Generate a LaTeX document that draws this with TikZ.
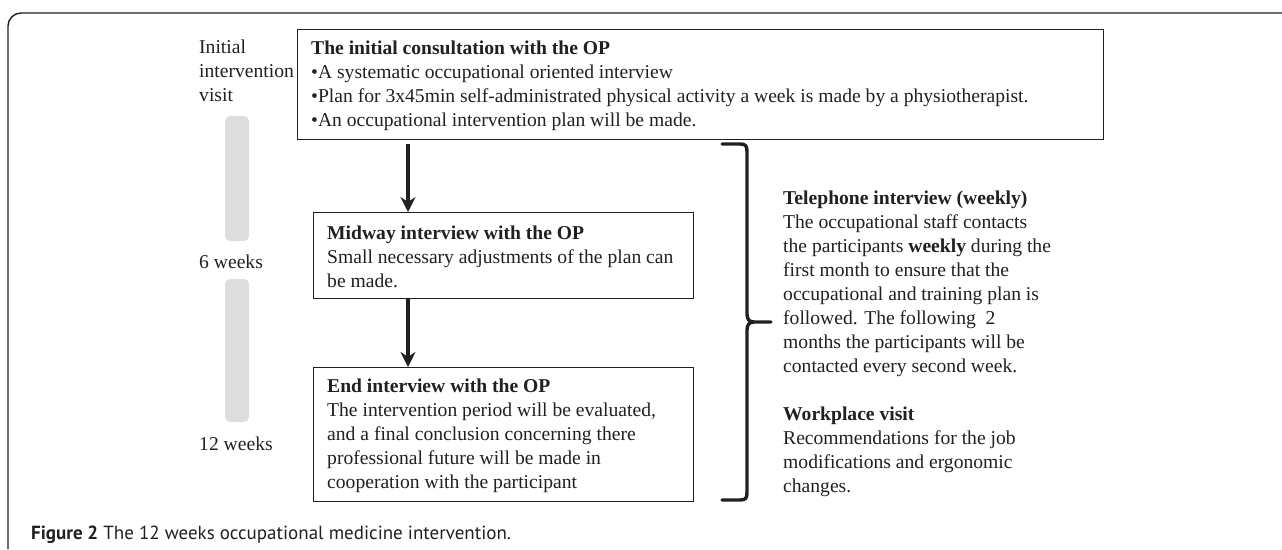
\documentclass[tikz,border=0pt]{standalone}
\usepackage{fontspec}
\setmainfont{Liberation Serif}
\newfontfamily\capfont{PT Sans}
\usetikzlibrary{arrows.meta}
\definecolor{ink}{HTML}{231F20}
\definecolor{barfill}{HTML}{DCDDDE}
\begin{document}
\begin{tikzpicture}[x=1pt,y=-1pt,
  every node/.style={text=ink},
  txt/.style={font=\fontsize{19.6}{24}\selectfont, align=left, inner sep=0pt},
  box/.style={draw=ink, line width=1.3pt, anchor=north west, inner sep=0pt},
  flow/.style={draw=ink, line width=3.6pt, -{Stealth[length=15pt,width=15pt,inset=5pt]}},
  brace/.style={draw=ink, line width=3.4pt, line cap=round, line join=round},
  bar/.style={fill=barfill, rounded corners=5pt},
  frame/.style={draw=ink, line width=1.4pt, rounded corners=13pt}]
\useasboundingbox (0,0) rectangle (1282,549);
% outer frame
\draw[frame] (8,549) -- (8,13) -- (1282,13);
% time bars
\path[bar] (225,116) rectangle (249,241);
\path[bar] (225,279) rectangle (249,422);
% left labels
\node[txt, anchor=north west] (lab0) at (199,40) {Initial\\intervention\\visit};
\node[txt, anchor=west] (lab6) at (199,262) {6 weeks};
\node[txt, anchor=west] (lab12) at (199,444) {12 weeks};
% boxes
\node[box, minimum width=806pt, minimum height=110pt] (init) at (297,29) {};
\node[box, minimum width=380pt, minimum height=86pt] (mid) at (313,212) {};
\node[box, minimum width=380pt, minimum height=134pt] (end) at (313,367) {};
% box texts
\node[txt, anchor=west] (initt) at ([xshift=14pt,yshift=-1pt]init.west)
  {\textbf{The initial consultation with the OP}\\
   •A systematic occupational oriented interview\\
   •Plan for 3x45min self-administrated physical activity a week is made by a physiotherapist.\\
   •An occupational intervention plan will be made.};
\node[txt, anchor=west] (midt) at ([xshift=14pt,yshift=-1pt]mid.west)
  {\textbf{Midway interview with the OP}\\
   Small necessary adjustments of the plan can\\
   be made.};
\node[txt, anchor=west] (endt) at ([xshift=14pt,yshift=-1pt]end.west)
  {\textbf{End interview with the OP}\\
   The intervention period will be evaluated,\\
   and a final conclusion concerning there\\
   professional future will be made in\\
   cooperation with the participant};
% arrows
\coordinate (a1s) at ([xshift=95pt,yshift=-4pt]init.south -| mid.west);
\draw[flow] (a1s) -- (a1s |- mid.north);
\draw[flow] (a1s |- mid.south) -- (a1s |- end.north);
% brace
\coordinate (bt) at (722,144);
\coordinate (bb) at (722,500);
\coordinate (tip) at (771,322);
\draw[brace] (bt) -- (740,144) .. controls (746,144) and (747,146) .. (747,152)
  -- (747,314) .. controls (747,319) and (749,322) .. (754,322) -- (tip);
\draw[brace] (754,322) .. controls (749,322) and (747,325) .. (747,330)
  -- (747,492) .. controls (747,498) and (746,500) .. (740,500) -- (bb);
% right text
\node[txt, anchor=north west] (right) at (783,191)
  {\textbf{Telephone interview (weekly)}\\
   The occupational staff contacts\\
   the participants \textbf{weekly} during the\\
   first month to ensure that the\\
   occupational and training plan is\\
   followed. The following\ \ 2\\
   months the participants will be\\
   contacted every second week.\\[24pt]
   \textbf{Workplace visit}\\
   Recommendations for the job\\
   modifications and ergonomic\\
   changes.};
% caption
\node[anchor=base west, inner sep=0pt, font=\capfont\fontsize{19}{22}\selectfont] (cap) at (31,539)
  {\textbf{Figure 2} The 12 weeks occupational medicine intervention.};
\end{tikzpicture}
\end{document}
